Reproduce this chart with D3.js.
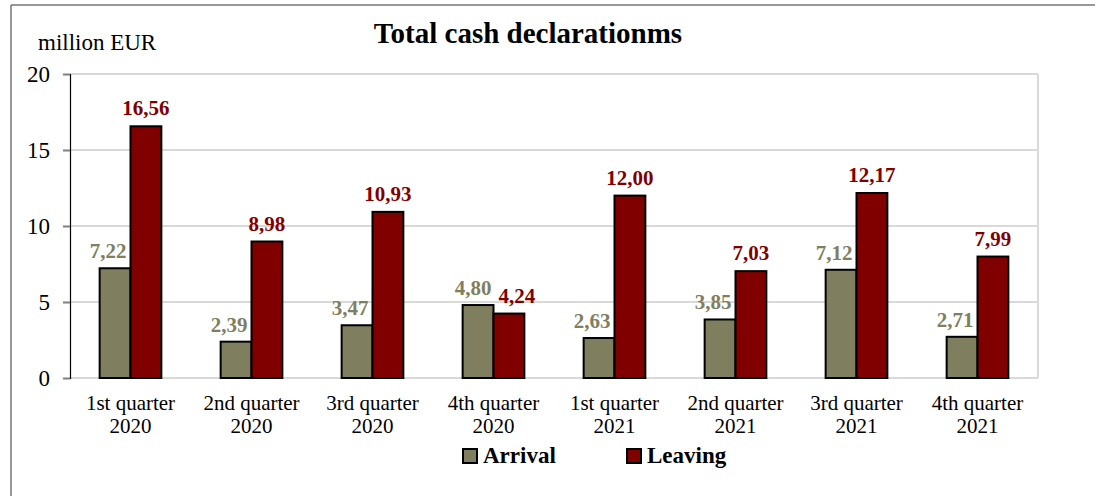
<!DOCTYPE html>
<html>
<head>
<meta charset="utf-8">
<script src="https://cdn.jsdelivr.net/npm/d3@7"></script>
<style>
  body { margin: 0; background: #fff; }
  svg { display: block; font-family: "Liberation Serif", "Times New Roman", serif; }
</style>
</head>
<body>
<svg id="chart"></svg>
<script>
// data
const quarters = ['1st quarter', '2nd quarter', '3rd quarter', '4th quarter',
                  '1st quarter', '2nd quarter', '3rd quarter', '4th quarter'];
const years = ['2020', '2020', '2020', '2020', '2021', '2021', '2021', '2021'];
const arrival = [7.22, 2.39, 3.47, 4.80, 2.63, 3.85, 7.12, 2.71];
const leaving = [16.56, 8.98, 10.93, 4.24, 12.00, 7.03, 12.17, 7.99];
const seriesNames = ['Arrival', 'Leaving'];
const yTicks = [0, 5, 10, 15, 20];

const colors = { Arrival: '#7f7f5f', Leaving: '#800000' };

const width = 1095, height = 496;
const margin = { top: 74, right: 57, bottom: 118, left: 70 };
const innerW = width - margin.left - margin.right;
const innerH = height - margin.top - margin.bottom;

const svg = d3.select('#chart')
    .attr('width', width)
    .attr('height', height);

// outer frame (only left and top edges visible)
svg.append('line').attr('x1', 11).attr('x2', 11).attr('y1', 5).attr('y2', height)
    .attr('stroke', '#767676').attr('stroke-width', 1.5);
svg.append('line').attr('x1', 11).attr('x2', width).attr('y1', 5).attr('y2', 5)
    .attr('stroke', '#767676').attr('stroke-width', 1.5);

// title
svg.append('text')
    .attr('x', 528).attr('y', 43)
    .attr('text-anchor', 'middle')
    .style('font-size', '29px').style('font-weight', 'bold')
    .text('Total cash declarationms');

// unit label
svg.append('text')
    .attr('x', 38).attr('y', 50)
    .style('font-size', '23px')
    .text('million EUR');

const chart = svg.append('g')
    .attr('transform', `translate(${margin.left}, ${margin.top})`);

const groups = d3.range(quarters.length);
const table = groups.map(i => ({ i: i, Arrival: arrival[i], Leaving: leaving[i] }));

const x0 = d3.scaleBand()
    .domain(groups)
    .range([0, innerW])
    .paddingInner(0.49)
    .paddingOuter(0.245);

const x1 = d3.scaleBand()
    .domain(seriesNames)
    .range([0, x0.bandwidth()]);

const y = d3.scaleLinear()
    .domain([0, 20])
    .range([innerH, 0]);

// gridlines
chart.append('g')
    .selectAll('line')
    .data(yTicks)
    .join('line')
    .attr('x1', 0).attr('x2', innerW)
    .attr('y1', d => y(d)).attr('y2', d => y(d))
    .attr('stroke', '#d9d9d9').attr('stroke-width', 2);

// right border of the plot area
chart.append('line')
    .attr('x1', innerW).attr('x2', innerW)
    .attr('y1', 0).attr('y2', innerH)
    .attr('stroke', '#d9d9d9').attr('stroke-width', 2);

// y axis
const yAxis = d3.axisLeft(y).tickValues(yTicks).tickSize(7).tickPadding(13);
const yAxisGroup = chart.append('g').call(yAxis);
yAxisGroup.select('.domain').attr('stroke', '#000').attr('stroke-width', 1.2);
yAxisGroup.selectAll('.tick line').attr('stroke', '#7f7f7f').attr('stroke-width', 2);
yAxisGroup.selectAll('.tick text')
    .style('font-size', '23px')
    .style('font-family', '"Liberation Serif", serif')
    .attr('fill', '#000');

// bars
const groupSel = chart.append('g')
    .selectAll('g')
    .data(table)
    .join('g')
    .attr('transform', d => `translate(${x0(d.i)}, 0)`);

groupSel.selectAll('rect')
    .data(d => seriesNames.map(key => ({ key: key, value: d[key] })))
    .join('rect')
    .attr('x', d => x1(d.key))
    .attr('y', d => y(d.value))
    .attr('width', x1.bandwidth())
    .attr('height', d => innerH - y(d.value))
    .attr('fill', d => colors[d.key])
    .attr('stroke', '#000')
    .attr('stroke-width', 2);

// value labels, drawn after the bars; arrival labels slide left when the
// leaving bar next to them is taller, the way Excel placed them
const fmt = d3.format('.2f');
const mid = x0.bandwidth() / 2;
const labelGroups = chart.append('g')
    .selectAll('g')
    .data(table)
    .join('g')
    .attr('transform', d => `translate(${x0(d.i)}, 0)`);

labelGroups.append('text')
    .attr('x', d => d.Leaving > d.Arrival ? mid - 4 : x1('Arrival') + x1.bandwidth() / 2 - 5)
    .attr('text-anchor', d => d.Leaving > d.Arrival ? 'end' : 'middle')
    .attr('y', d => y(d.Arrival) - 10)
    .style('font-size', '21px').style('font-weight', 'bold')
    .attr('fill', colors.Arrival)
    .text(d => fmt(d.Arrival).replace('.', ','));

labelGroups.append('text')
    .attr('x', d => d.Leaving > d.Arrival ? x1('Leaving') + x1.bandwidth() / 2 : mid + 5)
    .attr('text-anchor', d => d.Leaving > d.Arrival ? 'middle' : 'start')
    .attr('y', d => y(d.Leaving) - 11)
    .style('font-size', '21px').style('font-weight', 'bold')
    .attr('fill', colors.Leaving)
    .text(d => fmt(d.Leaving).replace('.', ','));

// category labels (two lines)
const catLabels = chart.append('g')
    .selectAll('text')
    .data(groups)
    .join('text')
    .attr('text-anchor', 'middle')
    .attr('x', i => x0(i) + x0.bandwidth() / 2)
    .attr('y', innerH + 32)
    .style('font-size', '21px');
catLabels.append('tspan').text(i => quarters[i]);
catLabels.append('tspan')
    .attr('x', i => x0(i) + x0.bandwidth() / 2)
    .attr('dy', 23)
    .text(i => years[i]);

// legend
const legendX = [463, 627];
const legend = svg.append('g')
    .selectAll('g')
    .data(seriesNames)
    .join('g')
    .attr('transform', (d, i) => `translate(${legendX[i]}, 449)`);
legend.append('rect')
    .attr('width', 14).attr('height', 14)
    .attr('fill', d => colors[d])
    .attr('stroke', '#000').attr('stroke-width', 2);
legend.append('text')
    .attr('x', 20).attr('y', 14)
    .style('font-size', '23px').style('font-weight', 'bold')
    .text(d => d);
</script>
</body>
</html>
